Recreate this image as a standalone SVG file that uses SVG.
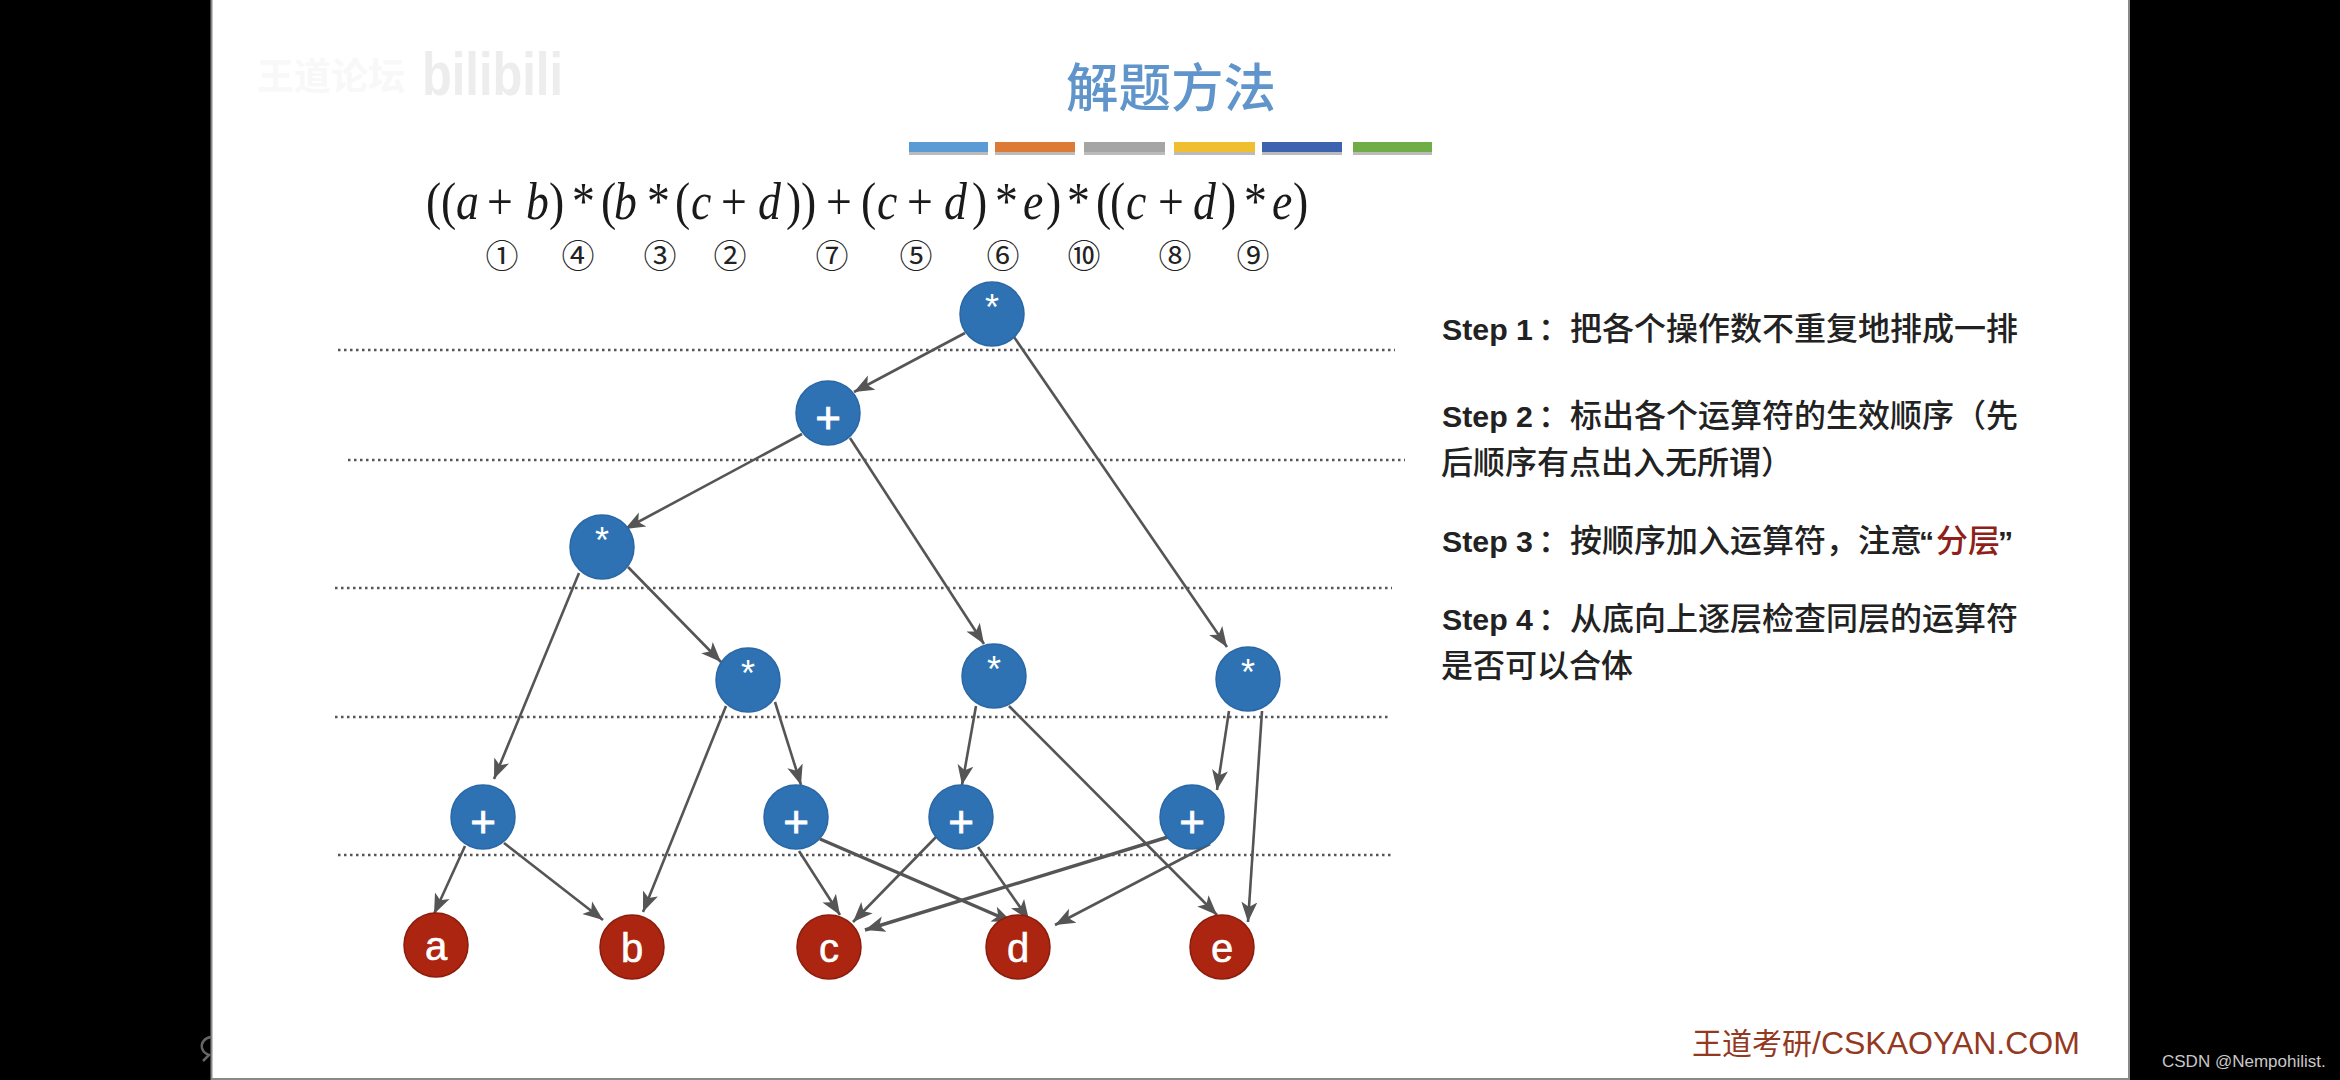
<svg xmlns="http://www.w3.org/2000/svg" width="2340" height="1080" viewBox="0 0 2340 1080">
<style>
.cjk{font-family:"Noto Sans CJK SC","Liberation Sans",sans-serif}
.step{font-family:"Liberation Sans","Noto Sans CJK SC",sans-serif;font-size:32px;fill:#222}
.step .en{font-weight:700;font-size:30.3px}
.step .zh{font-family:"Noto Sans CJK SC",sans-serif;font-weight:500}
.dot{stroke:#555;stroke-width:2.500;stroke-dasharray:2.500 3.500;fill:none}
.e{stroke:#555;stroke-width:2.600;fill:none;marker-end:url(#ah)}
.t{stroke-width:3.400}
.b ellipse{fill:#2e72b4;stroke:#2a67a5;stroke-width:1.500}
.r ellipse{fill:#ab2510;stroke:#8c1c0c;stroke-width:1.500}
.n text{font-family:"Liberation Sans",sans-serif;fill:#fff;text-anchor:middle}
.op{font-size:44px;stroke:#fff;stroke-width:.8px}
.star{font-size:36px}
.lf{font-size:40px;stroke:#fff;stroke-width:.6px}
.f{font-family:"Liberation Serif","Times New Roman",serif;font-size:52px;fill:#1a1a1a}
.f .i{font-style:italic}
.c{font-family:"Noto Sans CJK SC",sans-serif;font-size:33px;fill:#222;text-anchor:middle}
</style>
<defs>
<marker id="ah" markerUnits="userSpaceOnUse" markerWidth="22" markerHeight="18" refX="20" refY="9" orient="auto"><path d="M0 1L20 9L0 17L5 9Z" fill="#555"/></marker>
</defs>
<rect width="2340" height="1080" fill="#000"/>
<rect x="211" y="0" width="1918" height="1080" fill="#fff"/>
<path d="M211.500 0V1079H2129V0" fill="none" stroke="#8a8a8a" stroke-width="2"/>
<path d="M211 1037C204 1038 201 1043 202 1048C203 1052 206 1054 209 1055L203 1061" fill="none" stroke="#666" stroke-width="2.500"/>
<text x="257" y="90" class="cjk" font-size="37" font-weight="700" fill="#f8f8f8">王道论坛</text>
<text x="422" y="95" font-family="Liberation Sans,sans-serif" font-size="62" font-weight="700" fill="#ededed" textLength="141" lengthAdjust="spacingAndGlyphs">bilibili</text>
<text x="1171" y="107" class="cjk" font-size="52.500" font-weight="500" fill="#5f95cb" text-anchor="middle">解题方法</text>
<g id="bars">
<rect x="909" y="144" width="79" height="11" fill="#bbb"/><rect x="909" y="142" width="79" height="10" fill="#5b9bd5"/>
<rect x="995" y="144" width="80" height="11" fill="#bbb"/><rect x="995" y="142" width="80" height="10" fill="#dd7b36"/>
<rect x="1084" y="144" width="81" height="11" fill="#bbb"/><rect x="1084" y="142" width="81" height="10" fill="#a5a5a5"/>
<rect x="1174" y="144" width="81" height="11" fill="#bbb"/><rect x="1174" y="142" width="81" height="10" fill="#f0bf30"/>
<rect x="1262" y="144" width="80" height="11" fill="#bbb"/><rect x="1262" y="142" width="80" height="10" fill="#3c62b0"/>
<rect x="1353" y="144" width="79" height="11" fill="#bbb"/><rect x="1353" y="142" width="79" height="10" fill="#70ad47"/>
</g>
<text class="f" transform="translate(0,219) scale(.88,1)"><tspan x="484.100 501.100">((</tspan><tspan class="i" x="518.200">a</tspan><tspan x="553.400">+</tspan><tspan class="i" x="597.700">b</tspan><tspan x="623.900 650 683">)*(</tspan><tspan class="i" x="697.700">b</tspan><tspan x="735.200 767">*(</tspan><tspan class="i" x="785.200">c</tspan><tspan x="819.300">+</tspan><tspan class="i" x="861.400">d</tspan><tspan x="893.200 910.200 938.600 978.400">))+(</tspan><tspan class="i" x="996.600">c</tspan><tspan x="1030.700">+</tspan><tspan class="i" x="1072.700">d</tspan><tspan x="1104.500 1130.700">)*</tspan><tspan class="i" x="1162.500">e</tspan><tspan x="1188.600 1212.500 1245.500 1261.400">)*((</tspan><tspan class="i" x="1279.500">c</tspan><tspan x="1315.900">+</tspan><tspan class="i" x="1355.700">d</tspan><tspan x="1387.500 1413.600">)*</tspan><tspan class="i" x="1445.500">e</tspan><tspan x="1469.300">)</tspan></text>
<g id="order">
<text class="c" x="502" y="268">①</text><text class="c" x="578" y="268">④</text><text class="c" x="660" y="268">③</text><text class="c" x="730" y="268">②</text><text class="c" x="832" y="268">⑦</text><text class="c" x="916" y="268">⑤</text><text class="c" x="1003" y="268">⑥</text><text class="c" x="1084" y="268">⑩</text><text class="c" x="1175" y="268">⑧</text><text class="c" x="1253" y="268">⑨</text>
</g>
<g id="levels">
<line class="dot" x1="338" y1="350" x2="1395" y2="350"/>
<line class="dot" x1="348" y1="460" x2="1405" y2="460"/>
<line class="dot" x1="335" y1="588" x2="1392" y2="588"/>
<line class="dot" x1="335" y1="717" x2="1390" y2="717"/>
<line class="dot" x1="338" y1="855" x2="1393" y2="855"/>
</g>
<g id="connectors">
<line class="e" x1="965" y1="333" x2="854" y2="392"/>
<line class="e" x1="1014" y1="337" x2="1227" y2="647"/>
<line class="e" x1="802" y1="434" x2="625" y2="529"/>
<line class="e" x1="850" y1="438" x2="984" y2="644"/>
<line class="e" x1="579" y1="573" x2="494" y2="779"/>
<line class="e" x1="628" y1="567" x2="721" y2="662"/>
<line class="e" x1="465" y1="846" x2="434" y2="914"/>
<line class="e" x1="504" y1="843" x2="603" y2="920"/>
<line class="e" x1="726" y1="706" x2="643" y2="912"/>
<line class="e" x1="775" y1="702" x2="801" y2="785"/>
<line class="e" x1="799" y1="851" x2="840" y2="915"/>
<line class="e t" x1="820" y1="839" x2="1012" y2="922"/>
<line class="e" x1="976" y1="706" x2="962" y2="785"/>
<line class="e" x1="1009" y1="706" x2="1217" y2="915"/>
<line class="e" x1="936" y1="837" x2="853" y2="922"/>
<line class="e" x1="978" y1="847" x2="1029" y2="920"/>
<line class="e" x1="1229" y1="711" x2="1217" y2="790"/>
<line class="e" x1="1262" y1="711" x2="1248" y2="922"/>
<line class="e t" x1="1168" y1="837" x2="865" y2="930"/>
<line class="e" x1="1210" y1="844" x2="1055" y2="925"/>
</g>
<g id="n1" class="n b"><ellipse cx="992" cy="314" rx="32" ry="32"/><text class="star" x="992" y="320">*</text></g>
<g id="n2" class="n b"><ellipse cx="828" cy="413" rx="32" ry="32"/><text class="op" x="828" y="433">+</text></g>
<g id="n3" class="n b"><ellipse cx="602" cy="547" rx="32" ry="32"/><text class="star" x="602" y="553">*</text></g>
<g id="n4" class="n b"><ellipse cx="748" cy="680" rx="32" ry="32"/><text class="star" x="748" y="686">*</text></g>
<g id="n5" class="n b"><ellipse cx="994" cy="676" rx="32" ry="32"/><text class="star" x="994" y="682">*</text></g>
<g id="n6" class="n b"><ellipse cx="1248" cy="679" rx="32" ry="32"/><text class="star" x="1248" y="685">*</text></g>
<g id="n7" class="n b"><ellipse cx="483" cy="817" rx="32" ry="32"/><text class="op" x="483" y="837">+</text></g>
<g id="n8" class="n b"><ellipse cx="796" cy="817" rx="32" ry="32"/><text class="op" x="796" y="837">+</text></g>
<g id="n9" class="n b"><ellipse cx="961" cy="817" rx="32" ry="32"/><text class="op" x="961" y="837">+</text></g>
<g id="n10" class="n b"><ellipse cx="1192" cy="817" rx="32" ry="32"/><text class="op" x="1192" y="837">+</text></g>
<g id="a" class="n r"><ellipse cx="436" cy="945" rx="32" ry="32"/><text class="lf" x="436" y="960">a</text></g>
<g id="b" class="n r"><ellipse cx="632" cy="947" rx="32" ry="32"/><text class="lf" x="632" y="962">b</text></g>
<g id="c" class="n r"><ellipse cx="829" cy="947" rx="32" ry="32"/><text class="lf" x="829" y="962">c</text></g>
<g id="d" class="n r"><ellipse cx="1018" cy="947" rx="32" ry="32"/><text class="lf" x="1018" y="962">d</text></g>
<g id="e" class="n r"><ellipse cx="1222" cy="947" rx="32" ry="32"/><text class="lf" x="1222" y="962">e</text></g>
<g id="steps">
<text class="step" y="340"><tspan class="en" x="1442">Step 1</tspan><tspan class="zh" x="1538">：</tspan><tspan class="zh" x="1570">把各个操作数不重复地排成一排</tspan></text>
<text class="step" y="427"><tspan class="en" x="1442">Step 2</tspan><tspan class="zh" x="1538">：</tspan><tspan class="zh" x="1570">标出各个运算符的生效顺序（先</tspan></text>
<text class="step" y="474"><tspan class="zh" x="1441">后顺序有点出入无所谓）</tspan></text>
<text class="step" y="552"><tspan class="en" x="1442">Step 3</tspan><tspan class="zh" x="1538">：</tspan><tspan class="zh" x="1570">按顺序加入运算符，注意</tspan><tspan class="en" x="1919">“</tspan><tspan class="zh" x="1936" fill="#8f1f1a">分层</tspan><tspan class="en" x="1998">”</tspan></text>
<text class="step" y="630"><tspan class="en" x="1442">Step 4</tspan><tspan class="zh" x="1538">：</tspan><tspan class="zh" x="1570">从底向上逐层检查同层的运算符</tspan></text>
<text class="step" y="677"><tspan class="zh" x="1441">是否可以合体</tspan></text>
</g>
<text x="1692" y="1054" font-family="Liberation Sans,Noto Sans CJK SC,sans-serif" font-size="32" fill="#93391f"><tspan class="cjk" font-size="30">王道考研</tspan>/CSKAOYAN.COM</text>
<text x="2162" y="1067" font-family="Liberation Sans,sans-serif" font-size="17" fill="#c8c8c8">CSDN @Nempohilist.</text>
</svg>
